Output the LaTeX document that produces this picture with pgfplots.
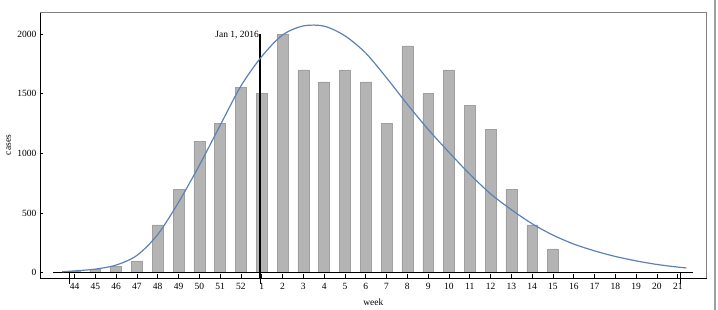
\documentclass[border=0pt]{standalone}
\usepackage{fontspec}
\setmainfont{Liberation Serif}
\usepackage{pgfplots}
\usepackage{pgfplotstable}
\pgfplotsset{compat=1.18}
\usetikzlibrary{calc}

\definecolor{curveblue}{RGB}{94,129,181}
\definecolor{barfill}{RGB}{180,180,180}
\definecolor{baredge}{RGB}{160,160,160}
\definecolor{baseline}{RGB}{115,115,115}

% weekly case counts, week 44 (2015) .. week 15 (2016); index 0 = week 44
\pgfplotstableread{
idx cases
0   15
1   25
2   50
3   100
4   400
5   700
6   1100
7   1250
8   1550
9   1500
10  2000
11  1700
12  1600
13  1700
14  1600
15  1250
16  1900
17  1500
18  1700
19  1400
20  1200
21  700
22  400
23  200
}\weekly

% fitted epidemic curve
\pgfplotstableread{
x     y
-0.6  8
0     15
1     30
2     64
3     145
4     320
5     590
6     900
7     1235
8     1565
9     1812
10    1992
11    2068
12    2066
13    1985
14    1840
15    1633
16    1411
17    1201
18    1009
19    826
20    661
21    528
22    410
23    315
24    240
25    183
26    136
27    99
28    69
29    47
29.41 40
}\fitcurve

\begin{document}
\begin{tikzpicture}
\begin{axis}[
  scale only axis,
  width=666.7pt, height=266pt,
  xmin=-1.66, xmax=30.39,
  ymin=-44.4, ymax=2184.7,
  axis x line*=bottom, axis y line*=left,
  axis line style={black, line width=0.9pt},
  tick align=inside,
  major tick length=3.5pt,
  tick style={black, line width=0.6pt},
  xtick={0,...,29},
  xticklabels={44,45,46,47,48,49,50,51,52,1,2,3,4,5,6,7,8,9,10,11,12,13,14,15,16,17,18,19,20,21},
  extra x ticks={-0.26,8.93,29.1},
  extra x tick style={major tick length=12pt, tick align=center, xticklabel={}},
  ytick={0,500,1000,1500,2000},
  /pgf/number format/1000 sep={},
  /pgf/number format/assume math mode=true,
  every tick label/.append style={font=\fontsize{9.5}{11}\selectfont},
  xticklabel style={yshift=-1.5pt},
  label style={font=\fontsize{9.5}{11}\selectfont},
  xlabel={week},
  ylabel={cases},
  xlabel style={at={(axis description cs:0.5,-0.09)}, anchor=center},
  ylabel style={at={(axis description cs:-0.047,0.5)}, anchor=center},
  clip=false,
]
\coordinate (bl) at (rel axis cs:0,0);
\coordinate (tr) at (rel axis cs:1,1);
% upper and right frame edges in grey
\draw[gray, line width=0.8pt] (rel axis cs:0,1) -- (rel axis cs:1,1) -- (rel axis cs:1,0);

\addplot[ybar, bar width=0.52, fill=barfill, draw=baredge, line width=0.5pt]
  table[x=idx, y=cases] {\weekly};

% zero line
\addplot[baseline, line width=1.6pt] coordinates {(-1.03,0) (29.74,0)};

% start of 2016
\addplot[black, line width=1.8pt] coordinates {(8.93,-44.4) (8.93,2000)};
\node[anchor=east, inner sep=1.2pt, font=\fontsize{9.5}{11}\selectfont]
  at (axis cs:8.93,1990) {Jan 1, 2016};

\addplot[curveblue, line width=1.2pt, smooth] table[x=x, y=y] {\fitcurve};
\end{axis}
\pgfresetboundingbox
\path[use as bounding box] ($(bl)+(-40pt,-32pt)$) rectangle ($(tr)+(11.3pt,12pt)$);
\draw[gray!75, line width=1.2pt] ($(tr)+(8.3pt,12pt)$) -- ($(tr|-bl)+(8.3pt,-32pt)$);
\end{tikzpicture}
\end{document}
